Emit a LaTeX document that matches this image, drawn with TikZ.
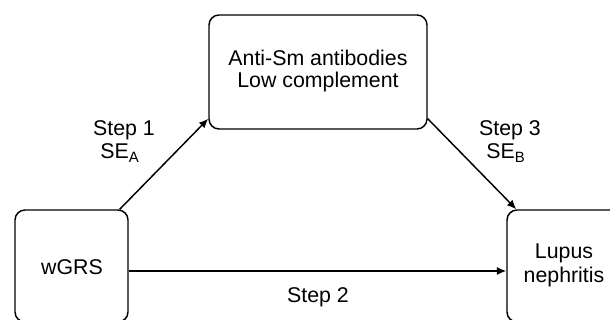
\documentclass[tikz,border=0pt]{standalone}
\usepackage{fontspec}
\setmainfont{Liberation Sans}
\usetikzlibrary{arrows.meta,calc}
\begin{document}
\begin{tikzpicture}[x=0.75pt,y=-0.75pt,
  box/.style={draw,line width=1.1pt,rounded corners=7.5pt,inner sep=0pt,align=center},
  lbl/.style={inner sep=0pt,font=\fontsize{16}{19}\selectfont},
  conn/.style={line width=1.1pt,-{Latex[length=7pt,width=6pt]}}]
\useasboundingbox (0,0) rectangle (610,320);
\clip (0,0) rectangle (610,320);
\node[box,minimum width=163.5pt,minimum height=85.5pt] (top) at (318,72) {};
\node[lbl] (t1) at (318,58) {Anti-Sm antibodies};
\node[lbl] (t2) at (318,82) {Low complement};
\node[box,minimum width=84.75pt,minimum height=84pt] (wgrs) at (71.5,266) {};
\node[lbl] (w) at (72,267) {wGRS};
\node[box,minimum width=84.75pt,minimum height=84pt] (lupus) at (563.5,266) {};
\node[lbl] (l1) at (564,253) {Lupus};
\node[lbl] (l2) at (564,277) {nephritis};
\draw[conn] ($(wgrs.north east)+(-9,0)$) -- ($(top.south west)+(0,-11)$);
\draw[conn] ($(top.south east)+(0,-11)$) -- ($(lupus.north west)+(10,0)$);
\draw[conn] ($(wgrs.east)+(0,5)$) -- ($(lupus.west)+(0,5)$);
\node[lbl] (s1) at (124,130) {Step 1};
\node[lbl] (se1) at (120,153) {SE\textsubscript{A}};
\node[lbl] (s3) at (510,130) {Step 3};
\node[lbl] (se3) at (506,153) {SE\textsubscript{B}};
\node[lbl] (s2) at (318,297) {Step 2};
\end{tikzpicture}
\end{document}
